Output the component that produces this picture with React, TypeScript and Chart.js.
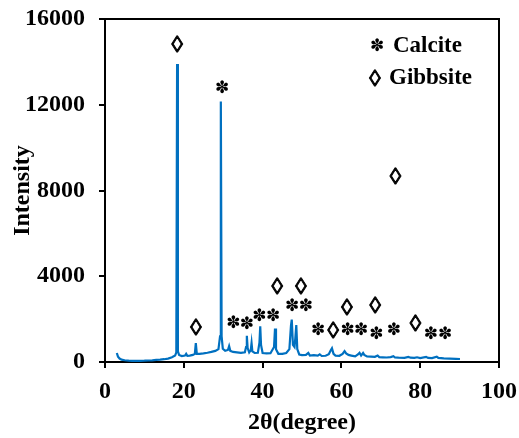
import React, { useEffect, useRef } from "react";
import { Chart, registerables } from "chart.js";
Chart.register(...registerables);

const twoTheta = [
  3.0, 3.3, 3.7, 4.2, 5, 6, 7, 8, 9, 10, 11, 12, 13, 14, 15, 16, 17, 17.8, 18.1, 18.3, 18.5, 18.8,
  19.5, 20.3, 20.6, 20.9, 21.5, 22.3, 22.8, 23.05, 23.3, 24, 25, 26, 27, 28, 28.8, 29.2, 29.4, 29.6,
  29.9, 30.5, 31.2, 31.5, 31.8, 32.5, 33.5, 34.5, 35.5, 35.8, 36.0, 36.2, 36.6, 37.0, 37.2, 37.4,
  38, 38.8, 39.2, 39.4, 39.6, 40, 41, 42, 42.9, 43.15, 43.4, 44, 45, 46, 46.8, 47.2, 47.4, 47.7,
  48.1, 48.3, 48.55, 48.8, 49.3, 50, 51, 51.6, 52, 53, 54, 54.5, 55, 56, 56.8, 57.3, 57.6, 58,
  58.5, 59.5, 60.3, 60.8, 61.2, 61.8, 62.5, 63.5, 64.2, 64.6, 65, 65.5, 65.8, 66.5, 67.5, 68.5,
  69.2, 69.6, 70.5, 71.5, 72.5, 73.2, 73.6, 74.5, 76, 77, 77.5, 78.5, 79.2, 80, 81.5, 82, 83,
  84.2, 84.6, 86, 87.5, 89, 90.1,
];
const intensity = [
  420, 250, 160, 110, 80, 60, 50, 50, 55, 60, 70, 80, 95, 110, 130, 160, 220, 300, 450, 13900, 500, 330,
  280, 300, 380, 290, 300, 330, 380, 880, 380, 380, 400, 430, 470, 520, 600, 1200, 12150, 1200,
  620, 520, 560, 740, 520, 470, 450, 430, 450, 700, 1220, 650, 450, 550, 880, 500,
  420, 430, 900, 1670, 800, 420, 400, 410, 700, 1560, 600, 380, 380, 420, 600, 1700, 1980, 800,
  700, 1100, 1720, 600, 350, 320, 330, 420, 300, 320, 300, 360, 280, 290, 360, 550, 640, 380,
  300, 290, 380, 510, 400, 330, 300, 260, 350, 430, 300, 420, 330, 260, 250, 240,
  300, 230, 220, 210, 230, 270, 210, 200, 190, 240, 200, 190, 220, 180, 240, 190, 180,
  250, 190, 170, 160, 150, 140,
];

const calciteX = [29.7, 32.6, 36.0, 39.2, 42.7, 47.5, 51.0, 54.1, 61.6, 65.0, 68.9, 73.3, 82.7, 86.3];
const calciteY = [12840, 1875, 1800, 2185, 2185, 2650, 2650, 1520, 1520, 1520, 1365, 1520, 1330, 1330];
const gibbsiteX = [18.3, 23.1, 43.7, 49.7, 57.9, 61.4, 68.6, 73.7, 78.8];
const gibbsiteY = [14850, 1675, 3580, 3580, 1520, 2600, 2700, 8700, 1830];

const xTicks = [0, 20, 40, 60, 80, 100];
const yTicks = [0, 4000, 8000, 12000, 16000];
const legendLabels = ["Calcite", "Gibbsite"];

const FONT = "'Liberation Serif', 'Times New Roman', serif";
const STAR = "\u273D";
const DIAMOND = "\u25CA";

export default function App() {
  const ref = useRef<HTMLCanvasElement>(null);
  useEffect(() => {
    if (!ref.current) return;
    const drawGlyph = (
      ctx: CanvasRenderingContext2D,
      g: string,
      px: number,
      py: number,
      font: string,
      stroke: number
    ) => {
      ctx.font = font;
      const m = ctx.measureText(g);
      ctx.textAlign = "center";
      ctx.textBaseline = "alphabetic";
      const yy = py + (m.actualBoundingBoxAscent - m.actualBoundingBoxDescent) / 2;
      ctx.fillText(g, px, yy);
      if (stroke > 0) {
        ctx.lineWidth = stroke;
        ctx.strokeText(g, px, yy);
      }
    };
    const starFont = `bold 17px 'DejaVu Sans', sans-serif`;
    const diaFont = `bold 23px ${FONT}`;
    const markerPlugin = {
      id: "markers",
      afterDraw(chart: any) {
        const { ctx, chartArea, scales } = chart;
        const x = scales.x;
        const y = scales.y;
        ctx.save();
        ctx.strokeStyle = "#000";
        ctx.lineWidth = 2;
        ctx.beginPath();
        ctx.moveTo(chartArea.left, chartArea.top);
        ctx.lineTo(chartArea.right, chartArea.top);
        ctx.lineTo(chartArea.right, chartArea.bottom);
        ctx.stroke();
        ctx.fillStyle = "#000";
        calciteX.forEach((v, i) => {
          drawGlyph(ctx, STAR, x.getPixelForValue(v), y.getPixelForValue(calciteY[i]), starFont, 0);
        });
        gibbsiteX.forEach((v, i) => {
          drawGlyph(ctx, DIAMOND, x.getPixelForValue(v), y.getPixelForValue(gibbsiteY[i]), diaFont, 0.9);
        });
        // legend
        const lx = chartArea.left + 272;
        const ly1 = chartArea.top + 26;
        const ly2 = chartArea.top + 58;
        drawGlyph(ctx, STAR, lx, ly1, starFont, 0);
        drawGlyph(ctx, DIAMOND, lx - 2, ly2, diaFont, 0.9);
        ctx.font = `bold 23px ${FONT}`;
        ctx.textAlign = "left";
        ctx.textBaseline = "middle";
        ctx.fillText(legendLabels[0], lx + 16, ly1 + 1);
        ctx.fillText(legendLabels[1], lx + 12, ly2 + 1);
        ctx.restore();
      },
    };
    const tickFont = { family: FONT, size: 24, weight: "bold" as const };
    const zeroPad = (s: any) => {
      s.paddingTop = 0;
      s.paddingBottom = 0;
      s.paddingLeft = 0;
      s.paddingRight = 0;
    };
    const chart = new Chart(ref.current, {
      type: "scatter",
      data: {
        datasets: [
          {
            data: twoTheta.map((t, i) => ({ x: t, y: intensity[i] })),
            showLine: true,
            borderColor: "#0070C0",
            borderWidth: 2.2,
            pointRadius: 0,
            tension: 0,
          },
        ],
      },
      options: {
        animation: false,
        responsive: false,
        devicePixelRatio: 1,
        layout: { padding: { top: 19, right: 20, left: 0, bottom: 0 } },
        plugins: { legend: { display: false }, tooltip: { enabled: false } },
        scales: {
          x: {
            type: "linear",
            min: 0,
            max: 100,
            afterBuildTicks: (s: any) => {
              s.ticks = xTicks.map((v) => ({ value: v }));
            },
            afterFit: (s: any) => {
              s.height = 76;
              zeroPad(s);
            },
            ticks: { color: "#000", font: tickFont, padding: 9, maxRotation: 0, callback: (v: any) => String(v) },
            grid: { drawOnChartArea: false, drawTicks: true, tickLength: 6, color: "#000", lineWidth: 2 },
            border: { display: true, color: "#000", width: 2 },
            title: {
              display: true,
              text: "2\u03B8(degree)",
              color: "#000",
              font: tickFont,
              padding: { top: 0, bottom: 1 },
            },
          },
          y: {
            type: "linear",
            min: 0,
            max: 16000,
            afterBuildTicks: (s: any) => {
              s.ticks = yTicks.map((v) => ({ value: v }));
            },
            afterFit: (s: any) => {
              s.width = 105;
              zeroPad(s);
            },
            ticks: { color: "#000", font: tickFont, padding: 14, callback: (v: any) => String(v) },
            grid: { drawOnChartArea: false, drawTicks: true, tickLength: 6, color: "#000", lineWidth: 2 },
            border: { display: true, color: "#000", width: 2 },
            title: {
              display: true,
              text: "Intensity",
              color: "#000",
              font: tickFont,
              padding: { top: 8, bottom: 0 },
            },
          },
        },
      },
      plugins: [markerPlugin],
    });
    return () => chart.destroy();
  }, []);
  return (
    <div style={{ position: "fixed", left: 0, top: 0, width: 519, height: 438, background: "#fff" }}>
      <canvas ref={ref} width={519} height={438} style={{ display: "block" }} />
    </div>
  );
}
